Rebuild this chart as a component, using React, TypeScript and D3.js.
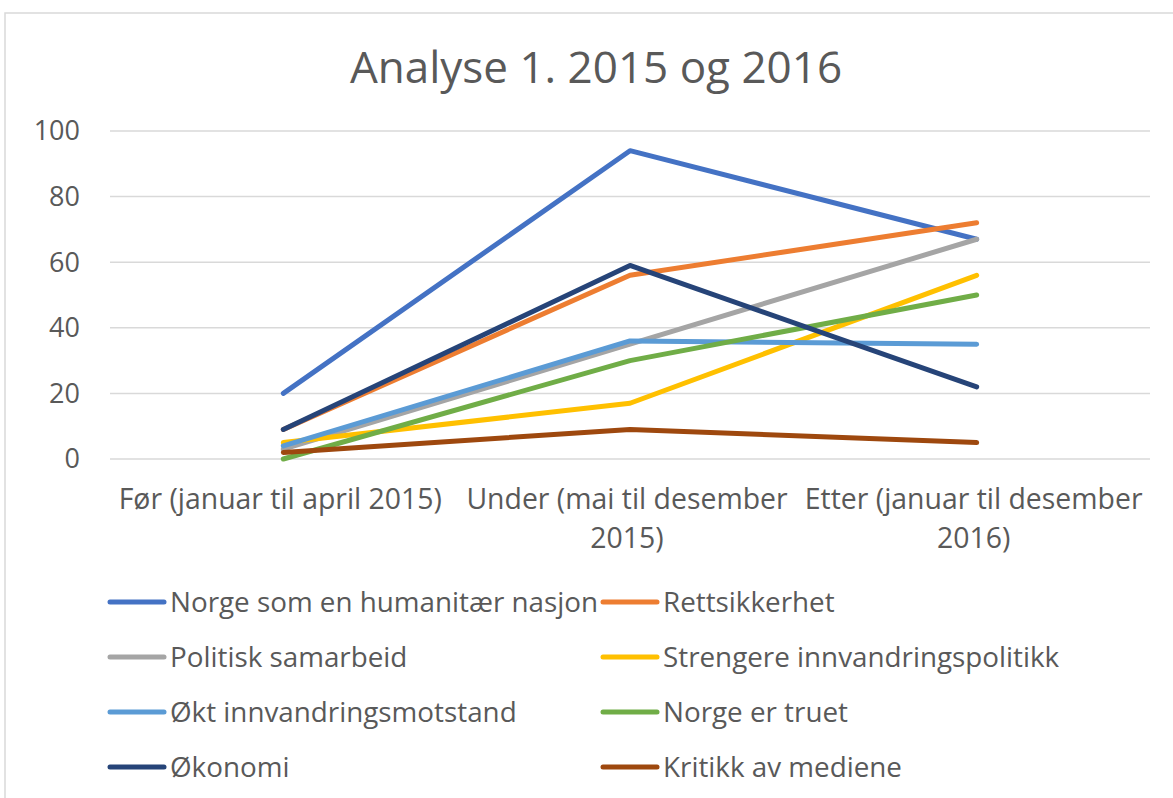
import React from "react";
import * as d3 from "d3";

const WIDTH = 1173;
const HEIGHT = 798;
const FONT = "'Open Sans', sans-serif";
const TEXT_COLOR = "#595959";

const TITLE = "Analyse 1. 2015 og 2016";

const categories = [
  ["Før (januar til april 2015)"],
  ["Under (mai til desember", "2015)"],
  ["Etter (januar til desember", "2016)"],
];

const yTicks = [0, 20, 40, 60, 80, 100];

const seriesNames = [
  "Norge som en humanitær nasjon",
  "Rettsikkerhet",
  "Politisk samarbeid",
  "Strengere innvandringspolitikk",
  "Økt innvandringsmotstand",
  "Norge er truet",
  "Økonomi",
  "Kritikk av mediene",
];

const seriesColors = [
  "#4472C4",
  "#ED7D31",
  "#A5A5A5",
  "#FFC000",
  "#5B9BD5",
  "#70AD47",
  "#264478",
  "#9E480E",
];

const humanitaer = [20, 94, 67];
const rettsikkerhet = [9, 56, 72];
const politisk = [3, 35, 67];
const strengere = [5, 17, 56];
const motstand = [4, 36, 35];
const truet = [0, 30, 50];
const okonomi = [9, 59, 22];
const medier = [2, 9, 5];

const seriesValues = [humanitaer, rettsikkerhet, politisk, strengere, motstand, truet, okonomi, medier];

const PLOT = { left: 110, right: 1150, top: 131, bottom: 459 };

export default function App() {
  const keys = categories.map((c) => c.join(" "));
  const x = d3.scaleBand().domain(keys).range([PLOT.left, PLOT.right]).padding(0);
  const y = d3.scaleLinear().domain([0, 100]).range([PLOT.bottom, PLOT.top]);
  const cx = (i: number) => (x(keys[i]) as number) + x.bandwidth() / 2;

  const line = d3
    .line<number>()
    .x((_, i) => cx(i))
    .y((d) => y(d));

  return (
    <div style={{ position: "absolute", left: 0, top: 0 }}>
      <svg width={WIDTH} height={HEIGHT} style={{ display: "block", background: "#fff" }}>
        <rect x={5} y={13} width={WIDTH + 20} height={HEIGHT + 20} fill="#fff" stroke="#d9d9d9" strokeWidth={1.5} />
        <text x={596} y={83} textAnchor="middle" fontFamily={FONT} fontSize={44} fill={TEXT_COLOR}>
          {TITLE}
        </text>

        {/* gridlines + y labels */}
        {yTicks.map((t) => (
          <g key={t}>
            <line x1={PLOT.left} x2={PLOT.right} y1={y(t)} y2={y(t)} stroke="#d9d9d9" strokeWidth={1.5} />
            <text
              x={80}
              y={y(t)}
              dy="0.35em"
              textAnchor="end"
              fontFamily={FONT}
              fontSize={27}
              fill={TEXT_COLOR}
            >
              {t}
            </text>
          </g>
        ))}

        {/* x labels */}
        {categories.map((lines, i) => (
          <text key={i} textAnchor="middle" fontFamily={FONT} fontSize={28.4} fill={TEXT_COLOR}>
            {lines.map((l, j) => (
              <tspan key={j} x={cx(i) - 3} y={509 + j * 39}>
                {l}
              </tspan>
            ))}
          </text>
        ))}

        {/* lines */}
        {seriesValues.map((vals, s) => (
          <path
            key={s}
            d={line(vals) || ""}
            fill="none"
            stroke={seriesColors[s]}
            strokeWidth={5}
            strokeLinecap="round"
            strokeLinejoin="round"
          />
        ))}

        {/* legend */}
        {seriesNames.map((name, s) => {
          const col = s % 2;
          const row = Math.floor(s / 2);
          const lx = col === 0 ? 110 : 603;
          const ly = 602 + row * 55;
          return (
            <g key={name}>
              <line x1={lx} x2={lx + 54} y1={ly} y2={ly} stroke={seriesColors[s]} strokeWidth={5} strokeLinecap="round" />
              <text x={lx + 60} y={ly} dy="0.35em" fontFamily={FONT} fontSize={27.8} fill={TEXT_COLOR}>
                {name}
              </text>
            </g>
          );
        })}
      </svg>
    </div>
  );
}
